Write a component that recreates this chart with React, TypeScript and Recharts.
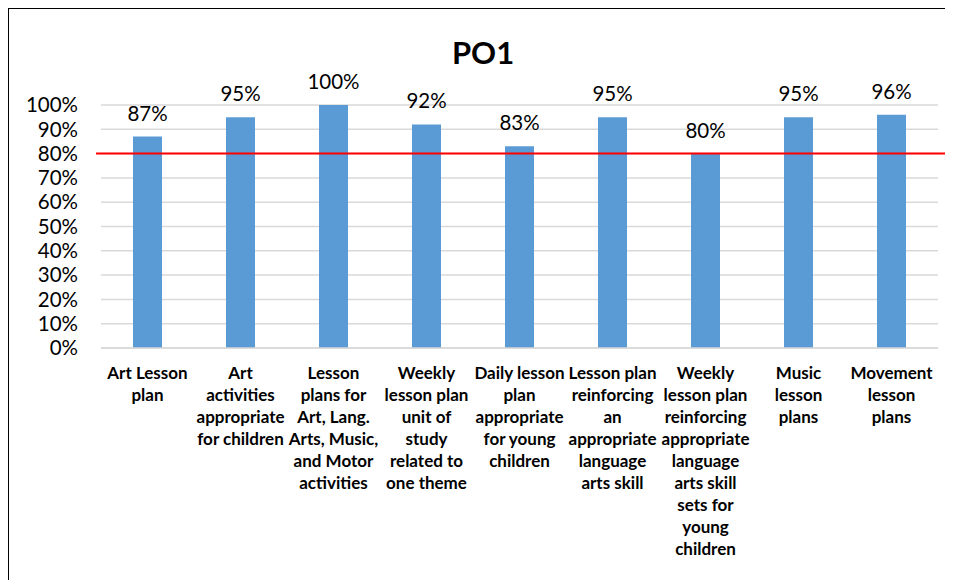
import React from 'react';
import { BarChart, Bar, XAxis, YAxis, CartesianGrid, ReferenceLine, LabelList } from 'recharts';

// categories, wrapped the same way as the original axis labels
const categories: string[] = [
  'Art Lesson\nplan',
  'Art\nactivities\nappropriate\nfor children',
  'Lesson\nplans for\nArt, Lang.\nArts, Music,\nand Motor\nactivities',
  'Weekly\nlesson plan\nunit of\nstudy\nrelated to\none theme',
  'Daily lesson\nplan\nappropriate\nfor young\nchildren',
  'Lesson plan\nreinforcing\nan\nappropriate\nlanguage\narts skill',
  'Weekly\nlesson plan\nreinforcing\nappropriate\nlanguage\narts skill\nsets for\nyoung\nchildren',
  'Music\nlesson\nplans',
  'Movement\nlesson\nplans',
];
const scores: number[] = [87, 95, 100, 92, 83, 95, 80, 95, 96];
const yTicks: number[] = [0, 10, 20, 30, 40, 50, 60, 70, 80, 90, 100];
const target = 80;

const data = categories.map((name, i) => ({ name, value: scores[i] }));

const FONT = 'Lato, "Open Sans", sans-serif';

const CategoryTick = (props: any) => {
  const { x, y, payload } = props;
  const lines: string[] = String(payload.value).split('\n');
  return (
    <text x={x} y={y} textAnchor="middle" fontFamily={FONT} fontWeight="bold" fontSize={17} fill="#000">
      {lines.map((l, i) => (
        <tspan key={i} x={x} dy={i === 0 ? 23 : 22}>{l}</tspan>
      ))}
    </text>
  );
};

const TargetLine = (props: any) => {
  const { x1, x2, y1, y2 } = props;
  return <line x1={x1 - 5} x2={x2 + 7} y1={y1} y2={y2} stroke="#FF0000" strokeWidth={2} />;
};

export default function App() {
  return (
    <div style={{ position: 'relative', width: 945, height: 572, fontFamily: FONT }}>
      <div
        style={{
          position: 'absolute', left: -1, top: -2, width: 946, height: 574,
          borderLeft: '2px solid #000', borderTop: '3px solid #000', boxSizing: 'border-box',
        }}
      />
      <div
        style={{
          position: 'absolute', left: 0, top: 25, width: 950, textAlign: 'center',
          fontSize: 31, fontWeight: 'bold', color: '#000',
        }}
      >
        PO1
      </div>
      <div style={{ position: 'absolute', left: 0, top: 0 }}>
        <BarChart width={945} height={572} data={data} margin={{ top: 97, right: 15, bottom: 0, left: 0 }} barCategoryGap={0}>
          <CartesianGrid vertical={false} stroke="#D9D9D9" strokeWidth={1.5} />
          <XAxis
            dataKey="name"
            interval={0}
            height={232}
            tickLine={false}
            axisLine={{ stroke: '#D9D9D9', strokeWidth: 1.5 }}
            tick={<CategoryTick />}
          />
          <YAxis
            width={93}
            domain={[0, 100]}
            ticks={yTicks}
            interval={0}
            tickLine={false}
            axisLine={false}
            tickMargin={17}
            tickFormatter={(v: number) => `${v}%`}
            tick={{ fontSize: 20.5, fill: '#000', fontFamily: FONT }}
          />
          <Bar dataKey="value" fill="#5B9BD5" barSize={29} isAnimationActive={false}>
            <LabelList
              dataKey="value"
              position="top"
              offset={16}
              formatter={(v: any) => `${v}%`}
              style={{ fontSize: 20.5, fill: '#000', fontFamily: FONT }}
            />
          </Bar>
          <ReferenceLine y={target} ifOverflow="visible" shape={<TargetLine />} />
        </BarChart>
      </div>
    </div>
  );
}
